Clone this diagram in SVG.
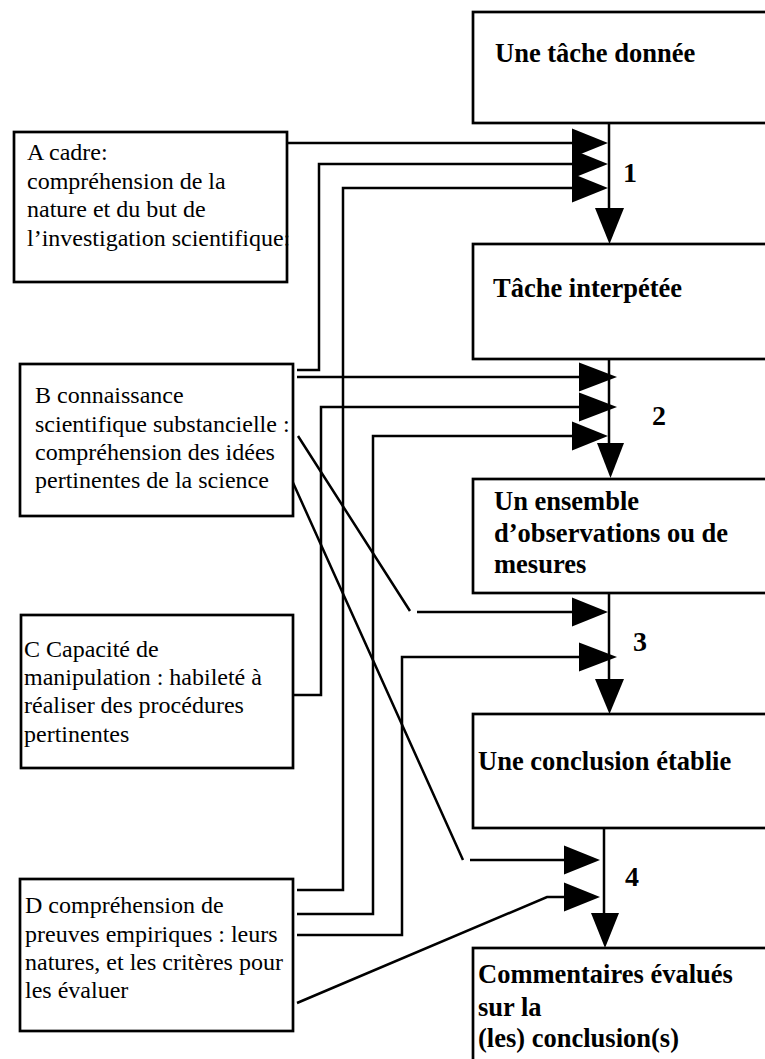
<svg xmlns="http://www.w3.org/2000/svg" width="765" height="1059" viewBox="0 0 765 1059">
<style>
.box{fill:#fff;stroke:#000;stroke-width:2.7}
.ln{fill:none;stroke:#000;stroke-width:2.5}
.ah{fill:#000;stroke:none}
.t{font-family:"Liberation Serif","Times New Roman",serif;font-size:24px;fill:#000}
.b{font-family:"Liberation Serif","Times New Roman",serif;font-size:26.5px;font-weight:bold;fill:#000}
.n{font-family:"Liberation Serif","Times New Roman",serif;font-size:28px;font-weight:bold;fill:#000}
</style>
<rect width="765" height="1059" fill="#fff"/>
<g id="connectors">
  <path class="ln" d="M609 123V210M609 359V445M609 593V681M604 828V915"/>
  <polygon class="ah" points="595,208 624,208 609.5,244"/>
  <polygon class="ah" points="597,443 624,443 610.5,478"/>
  <polygon class="ah" points="595,679 624,679 609.5,714"/>
  <polygon class="ah" points="591,913 619,913 605,948"/>
  <path class="ln" d="M281 143H574"/>
  <path class="ln" d="M297 370H319V164H574"/>
  <path class="ln" d="M297 890H343V188H574"/>
  <polygon class="ah" points="572,128.5 572,157.5 608,143"/>
  <polygon class="ah" points="572,149.5 572,178.5 608,164"/>
  <polygon class="ah" points="572,173.5 572,202.5 608,188"/>
  <path class="ln" d="M297 377H581"/>
  <path class="ln" d="M283 695H321V407H581"/>
  <path class="ln" d="M297 914H373V436H574"/>
  <polygon class="ah" points="579,362.5 579,391.5 617,377"/>
  <polygon class="ah" points="579,392.5 579,421.5 617,407"/>
  <polygon class="ah" points="572,421.5 572,450.5 608,436"/>
  <path class="ln" d="M298 436L410 611M417 612H574"/>
  <path class="ln" d="M297 935H402V657H581"/>
  <polygon class="ah" points="572,597.5 572,626.5 608,612"/>
  <polygon class="ah" points="579,642.5 579,671.5 617,657"/>
  <path class="ln" d="M290 476L463 860M470 860H566"/>
  <path class="ln" d="M297 1003L547 897H566"/>
  <polygon class="ah" points="564,845.5 564,874.5 600,860"/>
  <polygon class="ah" points="564,882.5 564,911.5 600,897"/>
  <text class="n" x="623" y="182">1</text>
  <text class="n" x="652" y="425">2</text>
  <text class="n" x="633" y="651">3</text>
  <text class="n" x="625" y="886">4</text>
</g>
<g id="task">
  <rect class="box" x="473" y="12" width="320" height="111"/>
  <text class="b" x="495" y="62">Une tâche donnée</text>
</g>
<g id="interpreted">
  <rect class="box" x="473" y="244" width="320" height="115"/>
  <text class="b" x="493" y="297">Tâche interpétée</text>
</g>
<g id="observations">
  <rect class="box" x="473" y="479" width="320" height="114"/>
  <text class="b" x="494" y="510">Un ensemble</text>
  <text class="b" x="494" y="542">d’observations ou de</text>
  <text class="b" x="494" y="573">mesures</text>
</g>
<g id="conclusion">
  <rect class="box" x="473" y="714" width="320" height="114"/>
  <text class="b" x="478" y="770">Une conclusion établie</text>
</g>
<g id="comments">
  <rect class="box" x="473" y="948" width="320" height="140"/>
  <text class="b" x="478" y="983">Commentaires évalués</text>
  <text class="b" x="478" y="1016">sur la</text>
  <text class="b" x="478" y="1047">(les) conclusion(s)</text>
</g>
<g id="boxA">
  <rect class="box" x="14" y="132" width="273" height="150"/>
  <text class="t" x="27" y="160">A cadre:</text>
  <text class="t" x="27" y="189">compréhension de la</text>
  <text class="t" x="27" y="217">nature et du but de</text>
  <text class="t" x="27" y="246">l’investigation scientifique:</text>
</g>
<g id="boxB">
  <rect class="box" x="20" y="364" width="273" height="152"/>
  <text class="t" x="35" y="403">B connaissance</text>
  <text class="t" x="35" y="432">scientifique substancielle :</text>
  <text class="t" x="35" y="460">compréhension des idées</text>
  <text class="t" x="35" y="488">pertinentes de la science</text>
</g>
<g id="boxC">
  <rect class="box" x="21" y="615" width="272" height="153"/>
  <text class="t" x="24" y="657">C Capacité de</text>
  <text class="t" x="24" y="685">manipulation : habileté à</text>
  <text class="t" x="24" y="713">réaliser des procédures</text>
  <text class="t" x="24" y="742">pertinentes</text>
</g>
<g id="boxD">
  <rect class="box" x="20" y="879" width="273" height="152"/>
  <text class="t" x="25" y="913">D compréhension de</text>
  <text class="t" x="25" y="942">preuves empiriques : leurs</text>
  <text class="t" x="25" y="970">natures, et les critères pour</text>
  <text class="t" x="25" y="998">les évaluer</text>
</g>
</svg>
